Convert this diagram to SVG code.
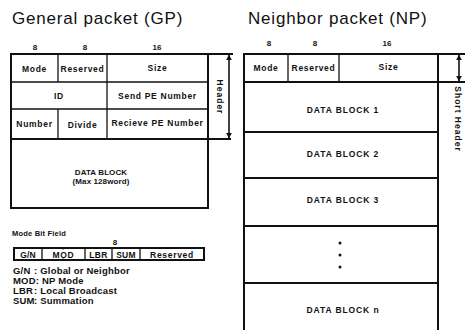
<svg xmlns="http://www.w3.org/2000/svg" width="465" height="330" viewBox="0 0 465 330">
  <style>
    .title { font-family: "Liberation Sans", Arial, sans-serif; font-size: 17px; letter-spacing: 0.8px; fill: #111; }
    .cell { font-family: "Liberation Sans", Arial, sans-serif; font-size: 8.5px; font-weight: bold; letter-spacing: 0.7px; fill: #111; text-anchor: middle; }
    .blk { font-family: "Liberation Sans", Arial, sans-serif; font-size: 8px; font-weight: bold; letter-spacing: 0.1px; fill: #111; text-anchor: middle; }
    .blkw { font-family: "Liberation Sans", Arial, sans-serif; font-size: 8.5px; font-weight: bold; letter-spacing: 0.9px; fill: #111; text-anchor: middle; }
    .num { font-family: "Liberation Sans", Arial, sans-serif; font-size: 8px; font-weight: bold; fill: #111; text-anchor: middle; }
    .legend { font-family: "Liberation Sans", Arial, sans-serif; font-size: 9.5px; font-weight: bold; letter-spacing: 0.2px; fill: #111; }
    .small { font-family: "Liberation Sans", Arial, sans-serif; font-size: 7.5px; font-weight: bold; letter-spacing: 0.2px; fill: #111; }
    .side { font-family: "Liberation Sans", Arial, sans-serif; font-size: 8.5px; font-weight: bold; letter-spacing: 1px; fill: #111; text-anchor: middle; }
    .outer { fill: none; stroke: #111; stroke-width: 2; }
    .inner { fill: none; stroke: #111; stroke-width: 1.3; }
    .arrow { fill: none; stroke: #111; stroke-width: 1.6; marker-start: url(#head); marker-end: url(#head); }
  </style>
  <defs>
    <marker id="head" viewBox="0 0 10 10" refX="9" refY="5" markerWidth="6" markerHeight="6" markerUnits="userSpaceOnUse" orient="auto-start-reverse">
      <path d="M0,0 L10,5 L0,10 Z" fill="#111"/>
    </marker>
  </defs>
  <rect width="465" height="330" fill="#fff"/>

  <!-- titles -->
  <text class="title" x="12" y="24">General packet (GP)</text>
  <text class="title" x="248" y="24">Neighbor packet (NP)</text>

  <!-- General packet -->
  <g id="gp">
    <text class="num" x="35" y="50">8</text>
    <text class="num" x="85" y="50">8</text>
    <text class="num" x="157" y="50">16</text>
    <rect class="outer" x="11" y="54" width="197" height="154"/>
    <line class="inner" x1="11" y1="82" x2="208" y2="82"/>
    <line class="inner" x1="11" y1="109" x2="208" y2="109"/>
    <line class="inner" x1="58" y1="54" x2="58" y2="82"/>
    <line class="inner" x1="58" y1="109" x2="58" y2="139"/>
    <line class="inner" x1="107" y1="54" x2="107" y2="139"/>
    <text class="cell" x="34.5" y="72">Mode</text>
    <text class="cell" x="82.5" y="72">Reserved</text>
    <text class="cell" x="157.5" y="71">Size</text>
    <text class="cell" x="59" y="99">ID</text>
    <text class="cell" x="157.5" y="99">Send PE Number</text>
    <text class="cell" x="34.5" y="127">Number</text>
    <text class="cell" x="82.5" y="128">Divide</text>
    <text class="cell" x="157.5" y="126">Recieve PE Number</text>
    <text class="blk" x="101" y="175">DATA BLOCK</text>
    <text class="blk" x="101" y="184">(Max 128word)</text>
  </g>

  <!-- GP header span -->
  <g id="gp-header">
    <line class="outer" x1="208" y1="54" x2="233" y2="54"/>
    <line class="outer" x1="11" y1="139" x2="231" y2="139"/>
    <text class="side" transform="translate(217 97) rotate(90)">Header</text>
  </g>

  <!-- Neighbor packet -->
  <g id="np">
    <text class="num" x="269" y="46">8</text>
    <text class="num" x="315" y="46">8</text>
    <text class="num" x="387" y="46">16</text>
    <path class="outer" d="M244,331 V54 H438 V331"/>
    <line class="outer" x1="244" y1="82" x2="438" y2="82"/>
    <line class="inner" x1="288" y1="54" x2="288" y2="82"/>
    <line class="inner" x1="339" y1="54" x2="339" y2="82"/>
    <line class="outer" x1="244" y1="132" x2="438" y2="132"/>
    <line class="outer" x1="244" y1="178" x2="438" y2="178"/>
    <line class="outer" x1="244" y1="226" x2="438" y2="226"/>
    <line class="outer" x1="244" y1="283" x2="438" y2="283"/>
    <text class="cell" x="266" y="71">Mode</text>
    <text class="cell" x="313.5" y="71">Reserved</text>
    <text class="cell" x="388.5" y="70">Size</text>
    <text class="blkw" x="343" y="113">DATA BLOCK 1</text>
    <text class="blkw" x="343" y="157">DATA BLOCK 2</text>
    <text class="blkw" x="343" y="203">DATA BLOCK 3</text>
    <circle cx="340" cy="243" r="1.5" fill="#111"/>
    <circle cx="340" cy="255" r="1.5" fill="#111"/>
    <circle cx="340" cy="267" r="1.5" fill="#111"/>
    <text class="blkw" x="343" y="313">DATA BLOCK n</text>
  </g>

  <!-- NP short header span -->
  <g id="np-header">
    <line class="outer" x1="438" y1="54" x2="465" y2="54"/>
    <line class="outer" x1="438" y1="82" x2="465" y2="82"/>
    <text class="side" transform="translate(455 119) rotate(90)">Short Header</text>
  </g>

  <!-- Mode bit field -->
  <g id="mode-bits">
    <text class="small" x="12" y="236">Mode Bit Field</text>
    <text class="num" x="115" y="245">8</text>
    <rect class="outer" x="14" y="248" width="190" height="12"/>
    <line class="inner" x1="42" y1="248" x2="42" y2="260"/>
    <line class="inner" x1="85" y1="248" x2="85" y2="260"/>
    <line class="inner" x1="112" y1="248" x2="112" y2="260"/>
    <line class="inner" x1="140" y1="248" x2="140" y2="260"/>
    <line class="inner" x1="63" y1="248" x2="63" y2="249.5"/>
    <line class="inner" x1="63" y1="258.5" x2="63" y2="260"/>
    <text class="cell" x="28" y="257.5" style="letter-spacing:0.2px">G/N</text>
    <text class="cell" x="63.5" y="257.5">MOD</text>
    <text class="cell" x="98.5" y="257.5" style="letter-spacing:0.3px">LBR</text>
    <text class="cell" x="126" y="257.5" style="letter-spacing:0.2px">SUM</text>
    <text class="cell" x="172" y="258">Reserved</text>
  </g>

  <!-- legend -->
  <g id="legend">
    <text class="legend" x="13" y="274">G/N<tspan x="34">: Global or Neighbor</tspan></text>
    <text class="legend" x="13" y="284">MOD: NP Mode</text>
    <text class="legend" x="13" y="294">LBR<tspan x="34">: Local Broadcast</tspan></text>
    <text class="legend" x="13" y="304">SUM<tspan x="34">: Summation</tspan></text>
  </g>

  <!-- span arrows -->
  <g id="connectors">
    <line class="arrow" x1="229" y1="55" x2="229" y2="138"/>
    <line class="arrow" x1="459" y1="55" x2="459" y2="81"/>
  </g>
</svg>
